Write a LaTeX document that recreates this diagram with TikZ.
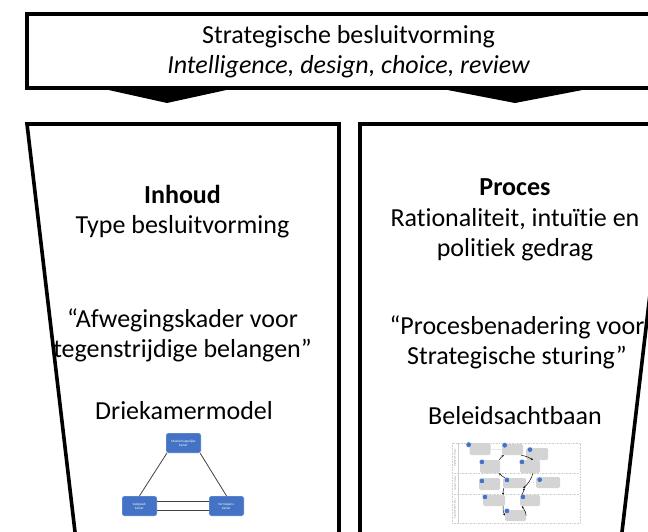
\documentclass[tikz,border=0pt]{standalone}
\usepackage{fontspec}
\setmainfont[Ligatures=NoCommon]{Carlito}
\usetikzlibrary{arrows.meta}

\definecolor{officeblue}{HTML}{4472C4}
\definecolor{stepgray}{HTML}{D4D4D4}
\definecolor{gridgray}{HTML}{CFCFCF}
\definecolor{linkgray}{HTML}{404040}

\tikzset{
  frame/.style={draw=black, line width=3.6pt, line join=miter},
  wedge/.style={fill=black, draw=none},
  txt/.style={font=\fontsize{26}{30}\selectfont, anchor=base, inner sep=0pt},
  kamer/.style={fill=officeblue, draw=white, line width=0.3pt, rounded corners=2pt,
    minimum width=35pt, minimum height=20pt, inner sep=0pt, text=white,
    font=\fontsize{3.4}{4}\selectfont, align=center},
  kamerlink/.style={draw=linkgray, line width=0.8pt},
  stepbox/.style={fill=stepgray, draw=none, rounded corners=1.5pt, inner sep=0pt},
  stepnum/.style={circle, fill=officeblue, draw=white, line width=0.2pt,
    minimum size=5.4pt, inner sep=0pt},
  loop/.style={draw=black, line width=0.45pt, -{Stealth[length=2.2pt,width=2pt]}},
  thinlink/.style={draw=gridgray, line width=0.4pt},
  rowlabel/.style={rotate=90, font=\fontsize{2.4}{3}\selectfont, text=gray, inner sep=0pt},
}

\begin{document}
\begin{tikzpicture}[x=1pt, y=-1pt]
\useasboundingbox (0,0) rectangle (648,532);
\clip (0,0) rectangle (648,532);

% top banner with its two downward pointers
\node[frame, minimum width=643pt, minimum height=74pt, inner sep=0pt] (banner) at (348.5,51) {};
\fill[wedge] (95,87) -- (167,103) -- (240,87) -- cycle;
\fill[wedge] (432,87) -- (515,103) -- (598,87) -- cycle;
\node[txt] (title) at (348.5,44) {Strategische besluitvorming};
\node[txt, font=\fontsize{26}{30}\selectfont\itshape] (phases) at (348.5,74) {Intelligence, design, choice, review};

% the two funnel panels
\draw[frame] (78.3,560) -- (27,124) -- (339,124) -- (339,560);
\draw[frame] (360,560) -- (360,124) -- (670,124) -- (618.7,560);

% left panel: content
\node[txt, font=\fontsize{26}{30}\selectfont\bfseries] (inhoud) at (182.5,203) {Inhoud};
\node[txt] (type) at (182.5,233) {Type besluitvorming};
\node[txt] (afw1) at (182.5,327) {“Afwegingskader voor};
\node[txt] (afw2) at (182.5,357) {tegenstrijdige belangen”};
\node[txt] (drie) at (184,419) {Driekamermodel};

% right panel: process
\node[txt, font=\fontsize{26}{30}\selectfont\bfseries] (proces) at (515,195) {Proces};
\node[txt] (rat1) at (515,226) {Rationaliteit, intuïtie en};
\node[txt] (rat2) at (515,256) {politiek gedrag};
\node[txt] (proc1) at (517,334) {“Procesbenadering voor};
\node[txt] (proc2) at (517,364) {Strategische sturing”};
\node[txt] (acht) at (515,424) {Beleidsachtbaan};

% three-chamber model
\node[kamer] (maat) at (183.5,443) {Maatschappelijke\\kamer};
\node[kamer] (vast) at (139.5,506) {Vastgoed-\\kamer};
\node[kamer] (verm) at (226.5,506) {Vermogens-\\kamer};
\draw[kamerlink] ([xshift=1pt]maat.south west) -- (vast.north);
\draw[kamerlink] ([xshift=-1pt]maat.south east) -- (verm.north);
\draw[kamerlink] ([yshift=-4.5pt]vast.east) -- ([yshift=-4.5pt]verm.west);
\draw[kamerlink] ([yshift=4.5pt]vast.east) -- ([yshift=4.5pt]verm.west);

% policy figure-eight: frame and levels
\draw[gridgray, line width=0.4pt, dashed, dash pattern=on 1pt off 0.6pt] (452,443) rectangle (580,523);
\draw[gridgray, line width=0.4pt, dashed, dash pattern=on 1pt off 0.6pt] (452,473) -- (580,473);
\draw[gridgray, line width=0.4pt, dashed, dash pattern=on 1pt off 0.6pt] (452,494) -- (580,494);
\draw[gridgray, line width=0.4pt] (458,443) -- (458,523);
\node[rowlabel] (lvl1) at (455,458) {Strategisch niveau};
\node[rowlabel] (lvl2) at (455,483.5) {Tactisch niveau};
\node[rowlabel] (lvl3) at (455,508.5) {Operationeel niveau};

% steps
\node[stepbox, minimum width=21pt, minimum height=12pt] (s1) at (480,449) {};
\node[stepbox, minimum width=21pt, minimum height=11pt] (s2) at (512.5,449.5) {};
\node[stepbox, minimum width=22pt, minimum height=12pt] (s3) at (537,454) {};
\node[stepbox, minimum width=20pt, minimum height=13pt] (s4) at (490,466.5) {};
\node[stepbox, minimum width=20pt, minimum height=13pt] (s5) at (530,466.5) {};
\node[stepbox, minimum width=23pt, minimum height=10pt] (s6) at (514.5,483) {};
\node[stepbox, minimum width=24pt, minimum height=11pt] (s7) at (548,482.5) {};
\node[stepbox, minimum width=21pt, minimum height=12pt] (s8) at (489.5,484) {};
\node[stepbox, minimum width=22pt, minimum height=11pt] (s9) at (494,500.5) {};
\node[stepbox, minimum width=20pt, minimum height=11pt] (s10) at (530,500.5) {};
\node[stepbox, minimum width=21pt, minimum height=11pt] (s11) at (515.5,515.5) {};

\draw[thinlink] (s1.east) -- (s2.west);
\draw[thinlink, dashed, dash pattern=on 0.8pt off 0.6pt] (s6.east) -- (s7.west);

\node[stepnum] (n1) at (468.7,444.7) {};
\node[stepnum] (n2) at (504.7,445.3) {};
\node[stepnum] (n3) at (530,449.7) {};
\node[stepnum] (n4) at (482,462) {};
\node[stepnum] (n5) at (522,462) {};
\node[stepnum] (n6) at (507,480) {};
\node[stepnum] (n7) at (539.7,479.7) {};
\node[stepnum] (n8) at (482,481) {};
\node[stepnum] (n9) at (485,497) {};
\node[stepnum] (n10) at (523,497) {};
\node[stepnum] (n11) at (507,511) {};

% the loops of the eight
\draw[loop] ([xshift=-1pt]s4.north east) to[bend left=10] ([xshift=2pt]s2.south west);
\draw[loop] ([xshift=-2pt]s2.south east) to[bend left=10] ([xshift=3pt]s5.north);
\draw[loop] ([xshift=3pt]s5.south) to[bend left=15] ([xshift=-3pt]s6.south east);
\draw[loop] ([xshift=2pt]s6.north west) to[bend left=10] ([xshift=-1pt]s4.south east);
\draw[loop] ([xshift=1pt]s6.south west) to[bend right=10] ([xshift=-2pt]s9.north east);
\draw[loop] ([xshift=-2pt]s9.south east) to[bend right=15] (s11.west);
\draw[loop] (s11.east) to[bend right=15] ([xshift=2pt]s10.south west);
\draw[loop] ([xshift=2pt]s10.north west) to[bend right=10] ([xshift=-2pt]s6.south east);
\end{tikzpicture}
\end{document}
